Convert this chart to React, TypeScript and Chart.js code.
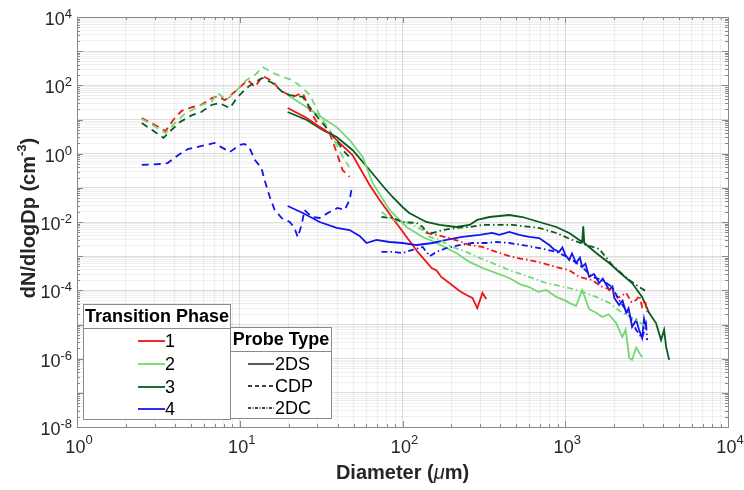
import React, { useEffect, useRef } from 'react';
import { Chart, registerables } from 'chart.js';
Chart.register(...registerables);

const FONT = '"Liberation Sans", Arial, Helvetica, sans-serif';

// ---- categories / legend text ----
const phaseLabels = ['1', '2', '3', '4'];
const probeLabels = ['2DS', 'CDP', '2DC'];
const xTickExps = [0, 1, 2, 3, 4];
const yTickExps = [-8, -6, -4, -2, 0, 2, 4];

// ---- CDP (dashed) ----
const p1CdpDiam = [2.5, 3.0, 3.5, 3.9, 4.4, 5.1, 5.8, 6.8, 7.3, 8.1, 9.6, 11.2, 12.4, 13.8, 16.0, 17.6, 21.1, 24.4, 26.9, 31.0, 35.6, 38.3, 42.8, 47.3];
const p1CdpConc = [11, 7, 4.6, 9.7, 18, 23, 27, 43, 48, 37, 73, 143, 89, 188, 130, 73, 46, 60, 19, 6, 4, 1.6, 0.33, 0.21];
const p2CdpDiam = [2.5, 3.0, 3.5, 4.0, 4.5, 5.1, 5.8, 6.7, 7.3, 8.3, 9.6, 11.0, 12.4, 13.8, 16.0, 18.5, 21.0, 24.0, 27.0, 31.0, 35.6, 39.4, 43.0, 47.0];
const p2CdpConc = [10.4, 6.4, 4.0, 7.9, 13.5, 19, 26.6, 32.5, 60, 37, 73, 143, 201, 344, 230, 175, 143, 89, 52, 13.5, 4.9, 1.8, 0.8, 0.41];
const p3CdpDiam = [2.5, 2.9, 3.4, 3.8, 4.3, 5.1, 5.8, 6.7, 7.5, 8.7, 9.6, 11.0, 12.4, 13.8, 15.9, 18.3, 20.2, 24.4, 26.9, 30.0, 34.2, 39.3, 42.9, 47.2];
const p3CdpConc = [7.9, 4.9, 2.9, 4.9, 8.5, 13.5, 16.6, 26.6, 30, 21.7, 42.6, 83.6, 125, 164, 117, 64, 52, 46, 23, 11.8, 5.6, 2.5, 1.28, 0.8];
const p4CdpDiam = [2.5, 3.3, 3.6, 4.2, 4.8, 5.85, 7.0, 7.8, 8.7, 10.0, 10.7, 11.5, 12.4, 13.6, 14.2, 15.3, 16.4, 18.1, 20.3, 21.7, 22.7, 24.0, 25.0, 27.7, 31.0, 35.6, 39.9, 44.1, 47.3, 48.6];
const p4CdpConc = [0.47, 0.5, 0.53, 0.91, 1.37, 1.68, 2.06, 1.5, 1.12, 1.8, 1.93, 1.46, 0.65, 0.38, 0.17, 0.054, 0.0225, 0.0131, 0.01, 0.0067, 0.0036, 0.0082, 0.0225, 0.014, 0.0131, 0.0196, 0.0257, 0.0225, 0.044, 0.09];

// ---- 2DS (solid) ----
const p1TdsDiam = [19.7, 25.8, 31, 35.6, 41, 49.3, 62.8, 72.3, 86.9, 106, 124, 151, 162, 173, 194, 224, 247, 269, 288, 310, 327];
const p1TdsConc = [21.7, 11.1, 6.0, 4.0, 2.06, 0.91, 0.121, 0.044, 0.0131, 0.00365, 0.00133, 0.00045, 0.00038, 0.000246, 0.000164, 9.6e-5, 7.3e-5, 6.0e-5, 3.0e-5, 8.4e-5, 5.6e-5];
const p2TdsDiam = [19.7, 25.8, 32.3, 39.4, 47.3, 56.9, 65.5, 83.2, 106, 133, 162, 214, 258, 310, 377, 453, 530, 601, 680, 764, 881, 1000, 1058, 1167, 1271, 1403, 1550, 1687, 1850, 2057, 2240, 2350, 2472, 2574, 2727, 2966];
const p2TdsConc = [52, 23, 11.1, 6.0, 2.5, 0.8, 0.139, 0.0225, 0.00715, 0.00365, 0.00243, 0.00124, 0.00068, 0.00045, 0.00032, 0.00023, 0.00015, 0.000125, 9.0e-5, 0.000102, 6.4e-5, 5.0e-5, 4.3e-5, 3.5e-5, 0.000102, 2.8e-5, 2.2e-5, 1.66e-5, 2.0e-5, 1.1e-5, 4.3e-6, 7.0e-6, 1.05e-6, 9.2e-7, 2.1e-6, 1.1e-6];
const p3TdsDiam = [19.7, 25.8, 32.3, 39.4, 49.3, 62.8, 77.6, 86.9, 100, 110, 140, 169, 214, 258, 288, 342, 453, 545, 692, 881, 1058, 1271, 1290, 1309, 1549, 1862, 2143, 2574, 2966, 3273, 3613, 3879, 4048, 4168, 4348];
const p3TdsConc = [16.6, 9.7, 4.9, 3.08, 1.28, 0.333, 0.099, 0.054, 0.0275, 0.0184, 0.01, 0.0082, 0.00715, 0.0082, 0.0115, 0.014, 0.016, 0.014, 0.01, 0.00715, 0.00477, 0.0026, 0.0075, 0.00243, 0.00124, 0.00063, 0.000345, 0.000164, 6.4e-5, 2.2e-5, 1.1e-5, 3.5e-6, 6.9e-6, 2.2e-6, 9.2e-7];
const p4TdsDiam = [19.7, 24.4, 31, 39.4, 47.3, 54.5, 60.1, 69.2, 83.2, 100, 122, 153, 186, 233, 297, 356, 394, 453, 522, 601, 692, 797, 850, 918, 960, 1000, 1058, 1100, 1167, 1230, 1271, 1330, 1403, 1500, 1617, 1700, 1862, 1950, 2000, 2143, 2250, 2368, 2450, 2574, 2727, 2843, 2966, 3050, 3140];
const p4TdsConc = [0.0294, 0.0184, 0.01, 0.0067, 0.0058, 0.0039, 0.00243, 0.003, 0.0026, 0.00243, 0.00212, 0.00243, 0.003, 0.00365, 0.0042, 0.00477, 0.0042, 0.0051, 0.0042, 0.00365, 0.0034, 0.00212, 0.0016, 0.00133, 0.0018, 0.0011, 0.00077, 0.0012, 0.00063, 0.0009, 0.00048, 0.0006, 0.000246, 0.0003, 0.000164, 0.00022, 0.000102, 0.00013, 6.0e-5, 3.7e-5, 5.0e-5, 2.2e-5, 3.0e-5, 8.5e-6, 1.36e-5, 6.9e-6, 4.0e-6, 1.5e-5, 8.5e-6];

// ---- 2DC (dash-dot) ----
const p1TdcDiam = [140, 162, 194, 230, 258, 310, 377, 453, 530, 601, 723, 881, 1058, 1219, 1465, 1687, 1941, 2100, 2368, 2550, 2727, 2850, 2966, 3100, 3186];
const p1TdcConc = [0.00477, 0.0042, 0.0034, 0.0026, 0.00212, 0.00186, 0.00133, 0.00101, 0.00085, 0.00077, 0.00063, 0.00048, 0.00039, 0.000246, 0.0002, 0.000125, 0.000102, 6.0e-5, 8.4e-5, 4.5e-5, 5.2e-5, 7.0e-5, 3.3e-5, 5.0e-5, 2.3e-5];
const p2TdcDiam = [74.3, 86.9, 110, 133, 147, 169, 203, 247, 297, 356, 453, 601, 764, 1058, 1271, 1549, 1862, 2240, 2727, 3140];
const p2TdcConc = [0.0196, 0.0115, 0.0094, 0.0058, 0.00365, 0.003, 0.00186, 0.00133, 0.00089, 0.00063, 0.00039, 0.000246, 0.000164, 0.000117, 9.0e-5, 6.4e-5, 4.3e-5, 2.2e-5, 1.36e-5, 8.5e-6];
const p3TdcDiam = [74.3, 86.9, 100, 122, 133, 140, 153, 176, 214, 258, 310, 394, 473, 692, 881, 1104, 1345, 1617, 1941, 2472, 2843, 3186];
const p3TdcConc = [0.014, 0.0131, 0.01, 0.0094, 0.00715, 0.0051, 0.00477, 0.0058, 0.0067, 0.00715, 0.0082, 0.0082, 0.0082, 0.0067, 0.00477, 0.003, 0.00212, 0.00163, 0.00055, 0.0002, 0.000125, 9.0e-5];
const p4TdcDiam = [74.3, 86.9, 100, 115, 133, 147, 162, 186, 224, 269, 327, 377, 453, 545, 692, 881, 1058, 1271, 1465, 1687, 1941, 2143, 2472, 2727, 2966, 3140, 3186];
const p4TdcConc = [0.00133, 0.00133, 0.00124, 0.00152, 0.00186, 0.001, 0.00133, 0.00173, 0.00212, 0.00243, 0.00243, 0.0026, 0.00243, 0.00212, 0.00173, 0.00133, 0.00089, 0.00048, 0.000246, 0.0002, 0.000125, 5.2e-5, 1.9e-5, 6.9e-6, 4.0e-6, 1.0e-5, 3.5e-6];

// ---- styles ----
const phaseColors = ['#f01414', '#74d874', '#0a5a20', '#1414f0'];
const probeDash: number[][] = [[], [7, 5], [6, 3, 1.5, 3]];
const LINE_W = 1.8;
const TICK_PX = 18;
const EXP_PX = 13;
const TITLE_PX = 20;
const LEG_PX = 18;

function pts(d: number[], n: number[]) {
  return d.map((v, i) => ({ x: v, y: n[i] }));
}

function gridValues(minExp: number, maxExp: number) {
  const v: number[] = [];
  for (let e = minExp; e < maxExp; e++) for (let m = 1; m < 10; m++) v.push(m * Math.pow(10, e));
  v.push(Math.pow(10, maxExp));
  return v;
}
function isDecade(v: number) {
  const l = Math.log10(v);
  return Math.abs(l - Math.round(l)) < 1e-6;
}

function drawPow(ctx: CanvasRenderingContext2D, exp: number, x: number, y: number, align: string, raise: number) {
  const e = String(exp);
  ctx.font = `${TICK_PX}px ${FONT}`;
  const w1 = ctx.measureText('10').width;
  ctx.font = `${EXP_PX}px ${FONT}`;
  const w2 = ctx.measureText(e).width;
  const sx = align === 'center' ? x - (w1 + w2) / 2 : x - (w1 + w2);
  ctx.textAlign = 'left';
  ctx.textBaseline = 'alphabetic';
  ctx.font = `${TICK_PX}px ${FONT}`;
  ctx.fillText('10', sx, y);
  ctx.font = `${EXP_PX}px ${FONT}`;
  ctx.fillText(e, sx + w1, y - raise);
}

const decorPlugin = {
  id: 'decor',
  afterDraw(chart: any) {
    const { ctx, chartArea: a, scales } = chart;
    const xs = scales.x;
    const ys = scales.y;
    ctx.save();
    // box
    ctx.strokeStyle = '#8a8a8a';
    ctx.lineWidth = 1;
    ctx.strokeRect(Math.round(a.left) + 0.5, Math.round(a.top) + 0.5, Math.round(a.right - a.left), Math.round(a.bottom - a.top));
    // ticks
    ctx.beginPath();
    gridValues(0, 4).forEach((v) => {
      const px = Math.round(xs.getPixelForValue(v)) + 0.5;
      const len = isDecade(v) ? 6 : 3;
      ctx.moveTo(px, a.bottom); ctx.lineTo(px, a.bottom - len);
      ctx.moveTo(px, a.top); ctx.lineTo(px, a.top + len);
    });
    gridValues(-8, 4).forEach((v) => {
      const py = Math.round(ys.getPixelForValue(v)) + 0.5;
      const len = isDecade(v) ? 6 : 3;
      ctx.moveTo(a.left, py); ctx.lineTo(a.left + len, py);
      ctx.moveTo(a.right, py); ctx.lineTo(a.right - len, py);
    });
    ctx.stroke();

    // tick labels
    ctx.fillStyle = '#262626';
    xTickExps.forEach((e) => {
      const px = xs.getPixelForValue(Math.pow(10, e));
      drawPow(ctx, e, px + 2, a.bottom + 26, 'center', 9);
    });
    yTickExps.forEach((e) => {
      const py = ys.getPixelForValue(Math.pow(10, e));
      drawPow(ctx, e, a.left - 5, py + 8, 'right', 7);
    });

    // x title: Diameter (μm)
    ctx.fillStyle = '#262626';
    {
      const p1 = 'Diameter (';
      const p2 = '\u03bc';
      const p3 = 'm)';
      ctx.font = `bold ${TITLE_PX}px ${FONT}`;
      const w1 = ctx.measureText(p1).width;
      const w3 = ctx.measureText(p3).width;
      ctx.font = `italic ${TITLE_PX}px ${FONT}`;
      const w2 = ctx.measureText(p2).width;
      const sx = (a.left + a.right) / 2 - (w1 + w2 + w3) / 2;
      const by = 479;
      ctx.textAlign = 'left';
      ctx.font = `bold ${TITLE_PX}px ${FONT}`;
      ctx.fillText(p1, sx, by);
      ctx.font = `italic ${TITLE_PX}px ${FONT}`;
      ctx.fillText(p2, sx + w1, by);
      ctx.font = `bold ${TITLE_PX}px ${FONT}`;
      ctx.fillText(p3, sx + w1 + w2, by);
    }
    // y title: dN/dlogDp (cm^-3)
    {
      const p1 = 'dN/dlogDp (cm';
      const p2 = '-3';
      const p3 = ')';
      ctx.font = `bold ${TITLE_PX}px ${FONT}`;
      const w1 = ctx.measureText(p1).width;
      const w3 = ctx.measureText(p3).width;
      ctx.font = `bold ${EXP_PX}px ${FONT}`;
      const w2 = ctx.measureText(p2).width;
      const total = w1 + w2 + w3;
      ctx.save();
      ctx.translate(35, 218);
      ctx.rotate(-Math.PI / 2);
      const sx = -total / 2;
      ctx.textAlign = 'left';
      ctx.font = `bold ${TITLE_PX}px ${FONT}`;
      ctx.fillText(p1, sx, 0);
      ctx.font = `bold ${EXP_PX}px ${FONT}`;
      ctx.fillText(p2, sx + w1, -9);
      ctx.font = `bold ${TITLE_PX}px ${FONT}`;
      ctx.fillText(p3, sx + w1 + w2, 0);
      ctx.restore();
    }

    // legends
    const box = (x0: number, y0: number, x1: number, y1: number) => {
      ctx.fillStyle = '#ffffff';
      ctx.fillRect(x0, y0, x1 - x0, y1 - y0);
      ctx.strokeStyle = '#8a8a8a';
      ctx.lineWidth = 1;
      ctx.strokeRect(x0 + 0.5, y0 + 0.5, x1 - x0, y1 - y0);
    };
    // Transition Phase
    box(83, 304, 230, 419);
    ctx.beginPath(); ctx.moveTo(83, 328.5); ctx.lineTo(230, 328.5); ctx.stroke();
    ctx.fillStyle = '#000000';
    ctx.font = `bold ${LEG_PX}px ${FONT}`;
    ctx.textAlign = 'center';
    ctx.textBaseline = 'middle';
    ctx.fillText('Transition Phase', 157, 317);
    const phaseRows = [341, 364, 387, 409];
    phaseLabels.forEach((lab, i) => {
      const yy = phaseRows[i];
      ctx.strokeStyle = phaseColors[i];
      ctx.lineWidth = LINE_W;
      ctx.setLineDash([]);
      ctx.beginPath(); ctx.moveTo(138, yy); ctx.lineTo(165, yy); ctx.stroke();
      ctx.fillStyle = '#000000';
      ctx.font = `${LEG_PX}px ${FONT}`;
      ctx.textAlign = 'left';
      ctx.fillText(lab, 165, yy + 1);
    });
    // Probe Type
    box(230, 327, 331, 418);
    ctx.beginPath(); ctx.moveTo(230, 351.5); ctx.lineTo(331, 351.5); ctx.stroke();
    ctx.fillStyle = '#000000';
    ctx.font = `bold ${LEG_PX}px ${FONT}`;
    ctx.textAlign = 'center';
    ctx.fillText('Probe Type', 281, 340);
    const probeRows = [364, 386, 408];
    probeLabels.forEach((lab, i) => {
      const yy = probeRows[i];
      ctx.strokeStyle = '#000000';
      ctx.lineWidth = 1.3;
      ctx.setLineDash(i === 1 ? [4, 3] : i === 2 ? [3, 1.5, 1, 1.5] : []);
      ctx.beginPath(); ctx.moveTo(248, yy); ctx.lineTo(274, yy); ctx.stroke();
      ctx.setLineDash([]);
      ctx.fillStyle = '#000000';
      ctx.font = `${LEG_PX}px ${FONT}`;
      ctx.textAlign = 'left';
      ctx.fillText(lab, 275, yy + 1);
    });
    ctx.restore();
  },
};

export default function App() {
  const ref = useRef<HTMLCanvasElement | null>(null);
  useEffect(() => {
    if (!ref.current) return;
    const series = [
      { d: p4TdcDiam, n: p4TdcConc, ph: 3, pr: 2 },
      { d: p3TdcDiam, n: p3TdcConc, ph: 2, pr: 2 },
      { d: p2TdcDiam, n: p2TdcConc, ph: 1, pr: 2 },
      { d: p1TdcDiam, n: p1TdcConc, ph: 0, pr: 2 },
      { d: p4CdpDiam, n: p4CdpConc, ph: 3, pr: 1 },
      { d: p3CdpDiam, n: p3CdpConc, ph: 2, pr: 1 },
      { d: p2CdpDiam, n: p2CdpConc, ph: 1, pr: 1 },
      { d: p1CdpDiam, n: p1CdpConc, ph: 0, pr: 1 },
      { d: p4TdsDiam, n: p4TdsConc, ph: 3, pr: 0 },
      { d: p2TdsDiam, n: p2TdsConc, ph: 1, pr: 0 },
      { d: p1TdsDiam, n: p1TdsConc, ph: 0, pr: 0 },
      { d: p3TdsDiam, n: p3TdsConc, ph: 2, pr: 0 },
    ];
    const gridColor = (c: any) => (c.tick && isDecade(c.tick.value) ? 'rgba(0,0,0,0.13)' : 'rgba(0,0,0,0.06)');
    const chart = new Chart(ref.current, {
      type: 'line',
      data: {
        datasets: series.map((s) => ({
          label: `${phaseLabels[s.ph]} ${probeLabels[s.pr]}`,
          data: pts(s.d, s.n),
          borderColor: phaseColors[s.ph],
          backgroundColor: phaseColors[s.ph],
          borderWidth: LINE_W,
          borderDash: probeDash[s.pr],
          pointRadius: 0,
          fill: false,
          tension: 0,
        })),
      },
      options: {
        animation: false,
        responsive: false,
        events: [],
        layout: { padding: { left: 77, top: 17, right: 16, bottom: 63 } },
        plugins: { legend: { display: false }, tooltip: { enabled: false }, title: { display: false } },
        scales: {
          x: {
            type: 'logarithmic',
            min: 1,
            max: 10000,
            afterBuildTicks: (axis: any) => {
              axis.ticks = gridValues(0, 4).map((v) => ({ value: v }));
            },
            ticks: { display: false },
            grid: { color: gridColor, drawTicks: false, lineWidth: 1 },
            border: { display: false },
          },
          y: {
            type: 'logarithmic',
            min: 1e-8,
            max: 1e4,
            afterBuildTicks: (axis: any) => {
              axis.ticks = gridValues(-8, 4).map((v) => ({ value: v }));
            },
            ticks: { display: false },
            grid: { color: gridColor, drawTicks: false, lineWidth: 1 },
            border: { display: false },
          },
        },
      } as any,
      plugins: [decorPlugin],
    });
    return () => chart.destroy();
  }, []);
  return (
    <div style={{ position: 'fixed', left: 0, top: 0, width: 744, height: 490, background: '#ffffff' }}>
      <canvas ref={ref} width={744} height={490} style={{ display: 'block', width: 744, height: 490 }} />
    </div>
  );
}
